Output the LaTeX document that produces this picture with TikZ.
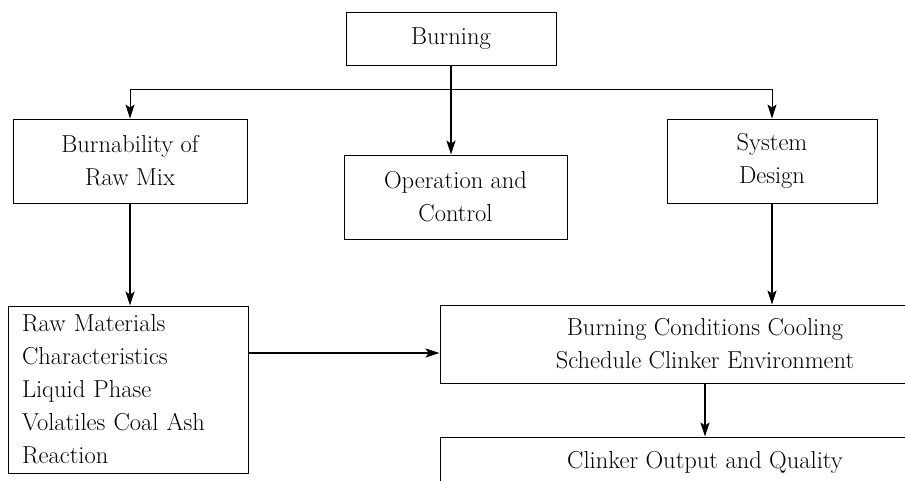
\documentclass[tikz,border=0pt]{standalone}
\usepackage{fontspec}
\usetikzlibrary{arrows.meta}
\begin{document}
\begin{tikzpicture}[x=1pt,y=-1pt,
  box/.style={draw,line width=0.9pt,inner sep=0pt,align=center,
    font=\fontsize{24.5}{33}\selectfont},
  conn/.style={line width=1.8pt,-{Stealth[length=14pt,width=9pt,inset=3pt]}},
  thin/.style={line width=0.8pt,-{Stealth[length=14pt,width=9pt,inset=3pt]}}]
\useasboundingbox (0,0) rectangle (905,480);
\clip (0,0) rectangle (905,480);
\node[box,minimum width=210pt,minimum height=53pt] (burn) at (451,38.5) {Burning};
\node[box,minimum width=234pt,minimum height=84pt] (burnab) at (130,161) {Burnability of\\Raw Mix};
\node[box,minimum width=223pt,minimum height=84pt] (oper) at (455.5,197) {Operation and\\Control};
\node[box,minimum width=210pt,minimum height=84pt] (sys) at (772,161) {System\\Design};
\node[box,minimum height=167pt,inner xsep=14pt,text width=212pt,align=left] (raw) at (128,389.5)
  {Raw Materials\\Characteristics\\Liquid Phase\\Volatiles Coal Ash\\Reaction};
\node[box,minimum width=530pt,minimum height=78pt] (bc) at (705,344) {Burning Conditions Cooling\\Schedule Clinker Environment};
\node[box,minimum width=530pt,minimum height=50pt] (clk) at (705,462) {Clinker Output and Quality};
\coordinate (br) at (burn.south |- 0,89);
\draw[conn] (burn.south) -- (burn.south |- oper.north);
\draw[thin] (br) -| (burnab.north);
\draw[thin] (br) -| (sys.north);
\draw[conn] (burnab.south) -- (burnab.south |- raw.north);
\draw[conn] (sys.south) -- (sys.south |- bc.north);
\draw[conn] ([yshift=-9pt]bc.west -| raw.east) -- ([yshift=-9pt]bc.west);
\draw[conn] (bc.south) -- (clk.north);
\end{tikzpicture}
\end{document}
